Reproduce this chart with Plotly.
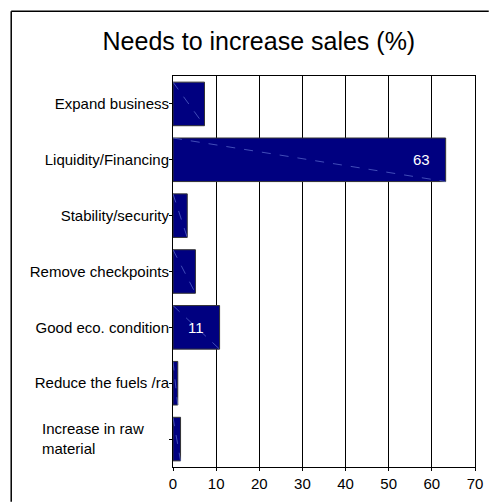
import plotly.graph_objects as go

# Survey results: needs to increase sales, share of respondents (%)
categories = [
    "Expand business",
    "Liquidity/Financing",
    "Stability/security",
    "Remove checkpoints",
    "Good eco. condition",
    "Reduce the fuels /ra",
    "Increase in raw<br>material",
]
values = [7.3, 63.2, 3.3, 5.2, 10.8, 1.1, 1.75]
labelled = {1: "63", 4: "11"}
x_ticks = [0, 10, 20, 30, 40, 50, 60, 70]

bar_width = 0.78
n = len(categories)
ypos = [n - 1 - i for i in range(n)]

fig = go.Figure()
fig.add_trace(go.Bar(
    x=values,
    y=ypos,
    orientation="h",
    width=bar_width,
    marker=dict(color="#000080", line=dict(color="#333333", width=1)),
    hoverinfo="x+y",
    showlegend=False,
))

# thin diagonal stroke across each bar
for v, y in zip(values, ypos):
    fig.add_trace(go.Scatter(
        x=[0, v],
        y=[y + bar_width / 2, y - bar_width / 2],
        mode="lines",
        line=dict(color="#5f6fd0", width=0.7, dash="dash"),
        hoverinfo="skip",
        showlegend=False,
    ))

annotations = []
for i, txt in labelled.items():
    v = values[i]
    if v > 30:
        annotations.append(dict(x=v, y=ypos[i], text=txt, showarrow=False,
                                xanchor="right", xshift=-14,
                                font=dict(color="white", size=15)))
    else:
        annotations.append(dict(x=v / 2, y=ypos[i], text=txt, showarrow=False,
                                xanchor="center",
                                font=dict(color="white", size=15)))

# single-line category names go on the axis; wrapped ones are left-aligned notes
tick_text = [c if "<br>" not in c else "" for c in categories]
for c, y in zip(categories, ypos):
    if "<br>" in c:
        annotations.append(dict(x=0, y=y, xref="x", yref="y", text=c,
                                showarrow=False, xanchor="right", xshift=-27,
                                yshift=1, align="left", font=dict(size=15)))

fig.update_layout(
    width=495,
    height=504,
    autosize=False,
    margin=dict(l=173, r=14, t=76, b=35),
    paper_bgcolor="white",
    plot_bgcolor="white",
    font=dict(family="Liberation Sans, Arial, sans-serif", size=15, color="black"),
    title=dict(text="Needs to increase sales (%)", x=0.523, xanchor="center",
               y=0.918, yanchor="middle",
               font=dict(size=25, color="black")),
    xaxis=dict(
        range=[0, 70],
        tickvals=x_ticks,
        showgrid=True,
        gridcolor="black",
        gridwidth=1,
        showline=True,
        linecolor="black",
        linewidth=1,
        mirror=True,
        ticks="outside",
        ticklen=3,
        tickcolor="black",
        zeroline=False,
        fixedrange=True,
    ),
    yaxis=dict(
        range=[-0.5, n - 0.5],
        tickvals=ypos,
        ticktext=tick_text,
        ticklabelstandoff=-3,
        showgrid=False,
        showline=True,
        linecolor="black",
        linewidth=1,
        mirror=True,
        ticks="outside",
        ticklen=3,
        tickcolor="black",
        zeroline=False,
        fixedrange=True,
    ),
    annotations=annotations,
    # outer frame: top and left edges run to the page edge
    shapes=[
        dict(type="line", xref="paper", yref="paper",
             x0=-0.5357, x1=1.0455, y0=1.1654, y1=1.1654,
             line=dict(color="black", width=1.5), layer="below"),
        dict(type="line", xref="paper", yref="paper",
             x0=-0.5357, x1=-0.5357, y0=-0.089, y1=1.1654,
             line=dict(color="black", width=1.5), layer="below"),
    ],
)

fig.write_html("out.html", config={"responsive": False})
